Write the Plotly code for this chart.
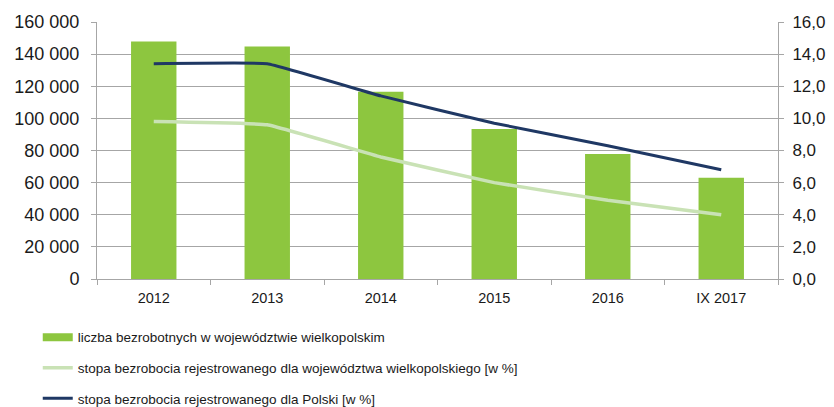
import plotly.graph_objects as go

categories = ["2012", "2013", "2014", "2015", "2016", "IX 2017"]
unemployed_wlkp = [147900, 144800, 116600, 93400, 77800, 63100]
rate_wlkp = [9.8, 9.6, 7.6, 6.0, 4.9, 4.0]
rate_poland = [13.4, 13.4, 11.4, 9.7, 8.3, 6.8]

left_ticks = [0, 20000, 40000, 60000, 80000, 100000, 120000, 140000, 160000]
right_ticks = [0, 2, 4, 6, 8, 10, 12, 14, 16]

names = [
    "liczba bezrobotnych w województwie wielkopolskim",
    "stopa bezrobocia rejestrowanego dla województwa wielkopolskiego [w %]",
    "stopa bezrobocia rejestrowanego dla Polski [w %]",
]

GRID = "#A6A6A6"
FONT = "Liberation Sans, Arial, sans-serif"
GREEN = "#8DC63F"

fig = go.Figure()
fig.add_trace(go.Bar(
    x=categories, y=unemployed_wlkp, name=names[0],
    marker=dict(color=GREEN, line=dict(width=0)),
    yaxis="y", showlegend=False, legendgroup="a",
))
# legend entry for the bars drawn as a wide rectangle
fig.add_trace(go.Scatter(
    x=[None], y=[None], name=names[0], mode="lines",
    line=dict(color=GREEN, width=8), yaxis="y", legendgroup="a",
))
fig.add_trace(go.Scatter(
    x=categories, y=rate_wlkp, name=names[1], mode="lines",
    line=dict(color="#C9E2B5", width=3.5, shape="spline", smoothing=0.25),
    yaxis="y2", legendgroup="b",
))
fig.add_trace(go.Scatter(
    x=categories, y=rate_poland, name=names[2], mode="lines",
    line=dict(color="#1F3864", width=3, shape="spline", smoothing=0.25),
    yaxis="y2", legendgroup="c",
))

# the page adds an 8px body margin, so the figure is 8px smaller
fig.update_layout(
    width=826, height=399,
    margin=dict(l=89, r=56, t=14, b=128, autoexpand=False),
    paper_bgcolor="white", plot_bgcolor="white",
    font=dict(family=FONT, size=18, color="#1a1a1a"),
    separators=", ",
    bargap=0.6,
    showlegend=True,
    legend=dict(
        orientation="v", x=-0.087, xanchor="left", y=-0.167, yanchor="top",
        font=dict(size=13.5), traceorder="grouped",
        tracegroupgap=10, bgcolor="rgba(0,0,0,0)",
    ),
    xaxis=dict(
        type="category", tickson="boundaries", ticks="outside", ticklen=5,
        tickcolor=GRID, showline=True, linecolor=GRID, linewidth=1,
        showgrid=False, tickfont=dict(size=14.5), ticklabelstandoff=6,
    ),
    yaxis=dict(
        range=[0, 160000], tickvals=left_ticks, tickformat=",d",
        ticks="outside", ticklen=5, tickcolor=GRID, ticklabelstandoff=8,
        showline=True, linecolor=GRID, linewidth=1,
        showgrid=True, gridcolor=GRID, gridwidth=1,
        zeroline=False, tickfont=dict(size=18),
    ),
    yaxis2=dict(
        range=[0, 16], tickvals=right_ticks, tickformat=".1f",
        overlaying="y", side="right",
        ticks="outside", ticklen=5, tickcolor=GRID, ticklabelstandoff=5,
        showline=True, linecolor=GRID, linewidth=1,
        showgrid=False, zeroline=False, tickfont=dict(size=17),
    ),
)

fig.write_html("out.html")
